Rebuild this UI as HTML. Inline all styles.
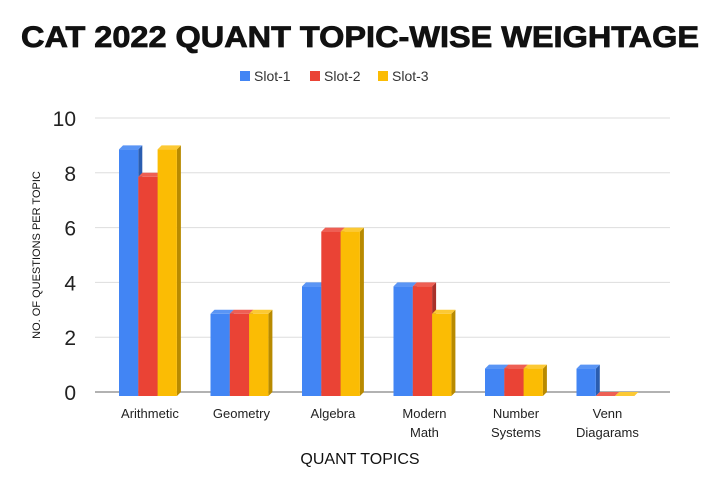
<!DOCTYPE html>
<html><head><meta charset="utf-8"><style>
body{margin:0;background:#fff;}
svg{display:block;font-family:"Liberation Sans",sans-serif;}
</style></head><body>
<svg id="c" width="720" height="480">
<text x="360" y="47" text-anchor="middle" font-size="30" font-weight="bold" fill="#111" stroke="#111" stroke-width="0.8" textLength="678" lengthAdjust="spacingAndGlyphs">CAT 2022 QUANT TOPIC-WISE WEIGHTAGE</text>
<g id="legend"></g>
<g id="grid"></g><g id="bars"></g><g id="labels"></g>
<text transform="translate(40,255) rotate(-90)" text-anchor="middle" font-size="11" fill="#111">NO. OF QUESTIONS PER TOPIC</text>
<text x="360" y="464" text-anchor="middle" font-size="16" fill="#111">QUANT TOPICS</text>
</svg>
<script>
const categories=[["Arithmetic"],["Geometry"],["Algebra"],["Modern","Math"],["Number","Systems"],["Venn","Diagarams"]];
const slot1=[9,3,4,4,1,1];
const slot2=[8,3,6,4,1,0];
const slot3=[9,3,6,3,1,0];
const seriesNames=["Slot-1","Slot-2","Slot-3"];
const yTicks=[0,2,4,6,8,10];
const series=[slot1,slot2,slot3];
const colors=["#4285f4","#ea4335","#fbbc04"];
const sides=["#2a5db0","#a8302a","#b88a00"];
const tops=["#5a95f5","#ee5f54","#fcc934"];
const NS="http://www.w3.org/2000/svg";
function mk(t,a,p){const e=document.createElementNS(NS,t);for(const k in a)e.setAttribute(k,a[k]);p.appendChild(e);return e;}
const y0=392,yPer=27.4,dx=4,dy=4;
function Y(v){return y0-v*yPer;}
function gx(i){return 119+i*91.5;}
const bw=19.3;
const grid=document.getElementById('grid');
yTicks.forEach(t=>{
 const l=mk('line',{x1:95,x2:670,y1:Y(t),y2:Y(t),stroke:t===0?'#999':'#ddd','stroke-width':t===0?1.5:1},grid);
 
 const tx=mk('text',{x:76,y:Y(t)+8,'text-anchor':'end','font-size':21,fill:'#222'},grid);tx.textContent=t;
 
});
const bars=document.getElementById('bars');
categories.forEach((c,i)=>{
 series.forEach((s,j)=>{
  const v=s[i];const x=gx(i)+j*bw;const top=Y(v)+dy,bot=y0+dy;
  const g=mk('g',{},bars);
  
  
  mk('polygon',{points:`${x+bw},${top} ${x+bw+dx},${top-dy} ${x+bw+dx},${bot-dy} ${x+bw},${bot}`,fill:sides[j]},g);
  mk('polygon',{points:`${x},${top} ${x+dx},${top-dy} ${x+bw+dx},${top-dy} ${x+bw},${top}`,fill:tops[j]},g);
  if(v>0)mk('rect',{x:x,y:top,width:bw,height:bot-top,fill:colors[j]},g);
 });
 const cx=gx(i)+1.5*bw+2;
 c.forEach((ln,k)=>{
  const t=mk('text',{x:cx,y:418+k*19,'text-anchor':'middle','font-size':13,fill:'#222'},document.getElementById('labels'));
  t.textContent=ln;
 });
});
const lg=document.getElementById('legend');
const lx=[240,310,378];
seriesNames.forEach((n,j)=>{
 const g=mk('g',{},lg);
 mk('rect',{x:lx[j],y:71,width:10,height:10,fill:colors[j]},g);
 const t=mk('text',{x:lx[j]+14,y:81,'font-size':14,fill:'#333'},g);t.textContent=n;
});
</script>
</body></html>
